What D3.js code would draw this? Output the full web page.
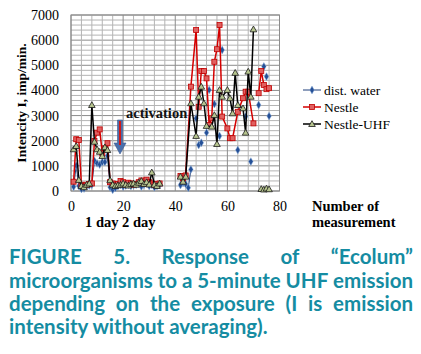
<!DOCTYPE html>
<html>
<head>
<meta charset="utf-8">
<script src="https://cdnjs.cloudflare.com/ajax/libs/d3/7.8.5/d3.min.js"></script>
<style>
body{margin:0;background:#fff;}
svg{display:block;}
</style>
</head>
<body>
<svg id="chart" width="421" height="354"></svg>
<script>
// readings per series (null = line break / isolated marker)
var waterX = [1,2,3,4,5,6,7,8,9,10,11,12,13,14,15,16,17,18,19,20,21,22,23,24,25,26,27,28,29,30,31,32,33,34,38,
  42,43,44,45,46,47,48,48.5,49,49.5,50,51,52,52.5,53,54,55,56,57,57.5,58,61,64,66,67,68,69,71,72,73,74,74.5,75,75.5,76];
var waterY = [170,1010,200,80,100,200,220,250,1200,1100,1050,1150,1150,1400,150,50,120,200,250,180,220,250,200,230,250,300,180,250,400,200,250,150,200,250,null,
  240,330,280,130,860,null,2890,null,1830,null,1920,null,2320,null,4020,null,3460,null,2190,null,5610,null,1630,null,2960,null,1170,null,3420,null,4950,null,4550,null,2980];

var nestleX = [1,2,3,4,5,6,7,8,9,10,11,12,13,14,15,16,17,18,19,20,21,22,23,24,25,26,27,28,29,30,31,32,33,34,38,
  42,43,44,46,48,49,50,51,52,53,54,55,56,57,58,60,61,62,64,66,67,68,70,71,72,73,74,75,76];
var nestleY = [370,2060,2030,250,200,250,280,300,1990,2320,2450,1500,1700,1900,350,300,250,280,400,350,250,330,300,250,280,350,420,300,450,350,300,250,280,300,null,
  600,500,620,4150,6400,3350,4770,4770,4480,2630,2890,5140,5640,6600,2960,2490,2100,2100,3150,3690,3950,3950,2690,null,3890,4770,4220,4050,4090];

var uhfX = [1,2,3,4,5,6,7,8,9,10,11,12,13,14,15,16,17,18,19,20,21,22,23,24,25,26,27,28,29,30,31,32,33,34,38,
  42,43,44,46,48,49,50,51,52,54,55,56,57,58,60,61,62,63,64,66,67,68,69,70,71.5,73,74,75,76];
var uhfY = [1660,1790,440,200,150,250,300,3420,1960,1660,1560,1390,1740,1630,430,250,200,230,250,300,250,220,280,300,250,330,400,280,350,260,740,250,200,300,null,
  570,370,570,3490,2190,3750,4150,3490,2590,2560,3020,1870,4020,3750,4020,3690,3090,4700,3420,3290,2320,4750,3750,6430,null,80,60,100,70];

var seriesNames = ["dist. water", "Nestle", "Nestle-UHF"];
var xTicks = [0, 20, 40, 60, 80];
var yTicks = [0, 1000, 2000, 3000, 4000, 5000, 6000, 7000];
var captionLines = [
  "FIGURE 5. Response of \u201cEcolum\u201d",
  "microorganisms to a 5-minute UHF emission",
  "depending on the exposure (I is emission",
  "intensity without averaging)."
];

var svg = d3.select("#chart");
var serif = "'Liberation Serif', 'Times New Roman', serif";

var x = d3.scaleLinear().domain([0, 80]).range([71, 279.5]);
var y = d3.scaleLinear().domain([0, 7000]).range([191, 15]);

// grid
var grid = svg.append("g");
grid.selectAll("line.hmin").data(d3.range(0, 7001, 200)).enter().append("line")
  .attr("x1", x(0)).attr("x2", x(80))
  .attr("y1", d => y(d)).attr("y2", d => y(d))
  .attr("stroke", d => d % 1000 == 0 ? "#8c8c8c" : "#b4b4b4")
  .attr("stroke-width", 1);
grid.selectAll("line.vmin").data(d3.range(0, 81, 4)).enter().append("line")
  .attr("y1", y(0)).attr("y2", y(7000))
  .attr("x1", d => x(d)).attr("x2", d => x(d))
  .attr("stroke", d => d % 20 == 0 ? "#8c8c8c" : "#b4b4b4")
  .attr("stroke-width", 1);
grid.append("rect")
  .attr("x", x(0)).attr("y", y(7000))
  .attr("width", x(80) - x(0)).attr("height", y(0) - y(7000))
  .attr("fill", "none").attr("stroke", "#8c8c8c");

// axes
var yAxis = svg.append("g").attr("transform", "translate(" + x(0) + ",0)")
  .call(d3.axisLeft(y).tickValues(yTicks).tickSize(0).tickPadding(12).tickFormat(d3.format("d")));
var xAxis = svg.append("g").attr("transform", "translate(0," + y(0) + ")")
  .call(d3.axisBottom(x).tickValues(xTicks).tickSize(0).tickPadding(10.5));
[yAxis, xAxis].forEach(function(a){
  a.select(".domain").remove();
  a.selectAll("text").attr("font-family", serif).attr("font-size", 14).attr("fill", "#000");
});

// series
function pts(xs, ys){ return xs.map((d, i) => ({x: d, y: ys[i]})); }
var series = [
  {name: seriesNames[0], data: pts(waterX, waterY), line: "#1f3f7a", lw: 1, shape: "diamond"},
  {name: seriesNames[1], data: pts(nestleX, nestleY), line: "#d40000", lw: 1.5, shape: "square"},
  {name: seriesNames[2], data: pts(uhfX, uhfY), line: "#000", lw: 1.5, shape: "triangle"}
];

var line = d3.line().defined(d => d.y != null).x(d => x(d.x)).y(d => y(d.y));

function marker(g, shape){
  if (shape == "diamond") {
    g.append("path").attr("d", d3.symbol().type(d3.symbolDiamond).size(18))
      .attr("fill", "#244f96").attr("stroke", "#8fb0dc").attr("stroke-width", 0.5);
  } else if (shape == "square") {
    g.append("rect").attr("x", -2.5).attr("y", -2.5).attr("width", 5).attr("height", 5)
      .attr("fill", "#e06060").attr("stroke", "#c00000").attr("stroke-width", 0.8);
  } else {
    g.append("path").attr("d", "M0,-3.3L3.3,2.5L-3.3,2.5Z")
      .attr("fill", "#b6c48e").attr("stroke", "#1a1a1a").attr("stroke-width", 0.8);
  }
}

series.forEach(function(s){
  svg.append("path").datum(s.data).attr("d", line)
    .attr("fill", "none").attr("stroke", s.line).attr("stroke-width", s.lw);
  svg.append("g").selectAll("g").data(s.data.filter(d => d.y != null)).enter().append("g")
    .attr("transform", d => "translate(" + x(d.x) + "," + y(d.y) + ")")
    .each(function(){ marker(d3.select(this), s.shape); });
});

// legend
var leg = svg.append("g");
series.forEach(function(s, i){
  var ly = 90 + i * 17;
  leg.append("line").attr("x1", 303).attr("x2", 321).attr("y1", ly).attr("y2", ly)
    .attr("stroke", s.line).attr("stroke-width", s.lw);
  var m = leg.append("g").attr("transform", "translate(312," + ly + ")");
  marker(m, s.shape);
  leg.append("text").attr("x", 324).attr("y", ly + 4.5).text(s.name)
    .attr("font-family", serif).attr("font-size", 13.5);
});

// annotations
svg.append("text").attr("transform", "translate(26,103) rotate(-90)")
  .attr("text-anchor", "middle").attr("font-family", serif).attr("font-weight", "bold")
  .attr("font-size", 13.5).text("Intencity I, imp/min.");
svg.append("text").attr("x", 126).attr("y", 118).attr("font-family", serif)
  .attr("font-weight", "bold").attr("font-size", 14.5).attr("fill", "#111").text("activation");
svg.append("path").attr("d", "M117.5,120L122.5,120L122.5,143L126,143L120,154L114,143L117.5,143Z")
  .attr("fill", "#4a6fab").attr("stroke", "#3a5b90").attr("stroke-width", 0.6);
svg.append("rect").attr("x", 119).attr("y", 121).attr("width", 2).attr("height", 24).attr("fill", "#d01818");

svg.append("text").attr("x", 312).attr("y", 211).attr("font-family", serif)
  .attr("font-weight", "bold").attr("font-size", 14.5).text("Number of");
svg.append("text").attr("x", 312).attr("y", 227).attr("font-family", serif)
  .attr("font-weight", "bold").attr("font-size", 14.5).text("measurement");
svg.append("text").attr("x", 85).attr("y", 227).attr("font-family", serif)
  .attr("font-weight", "bold").attr("font-size", 14.5).text("1 day 2 day");

// caption (justified)
var cap = svg.append("g").attr("font-family", "Lato, 'Open Sans', sans-serif")
  .attr("font-weight", "bold").attr("fill", "#158ca2");
var left = 9, right = 413;
var probe = cap.append("text").attr("font-size", 100).text(captionLines[3]);
var fs = 100 * 259 / probe.node().getComputedTextLength();
probe.attr("font-size", fs).text(captionLines[1]);
fs = Math.min(fs, fs * 404 / probe.node().getComputedTextLength());
probe.remove();
var baselines = [264, 288, 311, 334];
captionLines.forEach(function(t, li){
  var words = t.split(" ");
  if (li == captionLines.length - 1) {
    cap.append("text").attr("x", left).attr("y", baselines[li]).attr("font-size", fs).text(t);
    return;
  }
  var nodes = words.map(w => cap.append("text").attr("y", baselines[li]).attr("font-size", fs).text(w));
  var widths = nodes.map(n => n.node().getComputedTextLength());
  var gap = (right - left - d3.sum(widths)) / (words.length - 1);
  var cx = left;
  nodes.forEach(function(n, i){ n.attr("x", cx); cx += widths[i] + gap; });
});
</script>
</body>
</html>
